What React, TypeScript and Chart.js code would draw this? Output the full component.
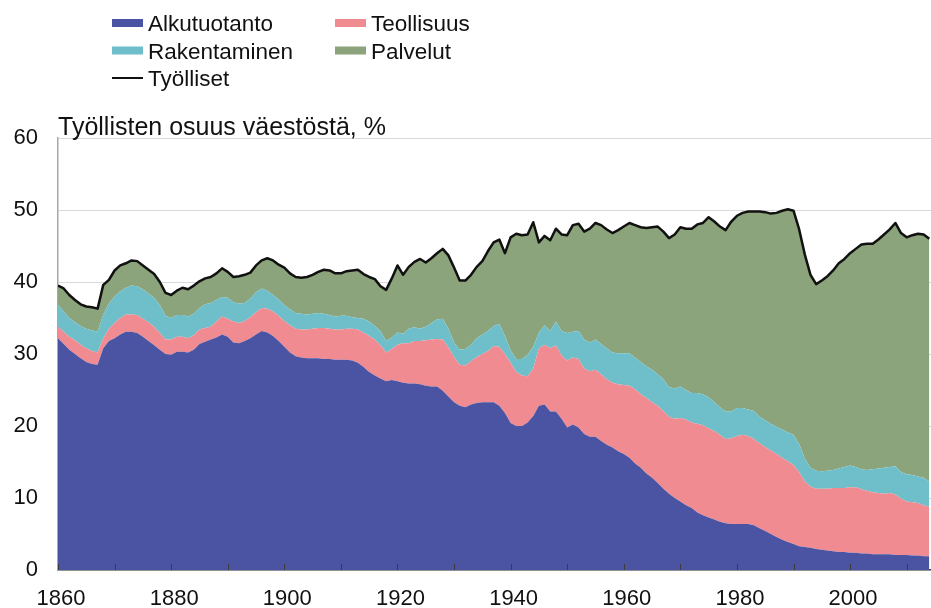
import React, { useEffect, useRef } from "react";
import { Chart, registerables } from "chart.js";

Chart.register(...registerables);

const FIRST_YEAR = 1860;
const LAST_YEAR = 2014;
const years: number[] = [];
for (let y = FIRST_YEAR; y <= LAST_YEAR; y++) years.push(y);

const alkutuotanto = [
  32.2, 31.4, 30.6, 30.0, 29.4, 28.9, 28.6, 28.5, 30.8, 31.8,
  32.2, 32.7, 33.1, 33.1, 32.9, 32.4, 31.8, 31.2, 30.6, 30.0,
  29.9, 30.3, 30.3, 30.2, 30.6, 31.4, 31.7, 32.0, 32.3, 32.7,
  32.4, 31.6, 31.5, 31.8, 32.2, 32.7, 33.2, 33.0, 32.5, 31.8,
  31.0, 30.2, 29.7, 29.5, 29.4, 29.4, 29.4, 29.3, 29.3, 29.2,
  29.2, 29.2, 29.1, 28.8, 28.2, 27.5, 27.0, 26.6, 26.2, 26.4,
  26.2, 26.0, 25.9, 25.9, 25.8, 25.6, 25.5, 25.5, 24.9, 24.1,
  23.3, 22.8, 22.6, 23.0, 23.2, 23.3, 23.3, 23.3, 22.8, 21.8,
  20.4, 20.0, 20.0, 20.5, 21.4, 22.8, 23.0, 22.0, 22.0, 21.0,
  19.8, 20.2, 19.8, 18.9, 18.5, 18.5, 17.9, 17.4, 17.0, 16.5,
  16.1, 15.6, 14.8, 14.2, 13.4, 12.8, 12.1, 11.3, 10.6, 10.0,
  9.5, 9.0, 8.6, 8.0, 7.6, 7.3, 7.0, 6.7, 6.5, 6.4,
  6.4, 6.4, 6.4, 6.2, 5.8, 5.4, 5.0, 4.6, 4.2, 3.9,
  3.6, 3.3, 3.2, 3.1, 2.9, 2.8, 2.7, 2.6, 2.5, 2.5,
  2.4, 2.4, 2.3, 2.3, 2.2, 2.2, 2.2, 2.2, 2.1, 2.1,
  2.1, 2.0, 2.0, 1.9, 1.9,
];

const teollisuus = [
  1.6, 1.7, 1.8, 1.9, 1.9, 1.9, 1.8, 1.7, 1.4, 1.7,
  2.1, 2.3, 2.4, 2.4, 2.5, 2.5, 2.6, 2.6, 2.3, 2.0,
  2.1, 2.1, 2.1, 2.0, 2.0, 2.0, 1.9, 1.8, 2.2, 2.5,
  2.5, 2.9, 2.8, 2.8, 2.9, 3.1, 3.2, 3.3, 3.4, 3.5,
  3.6, 3.8, 3.8, 3.9, 4.0, 4.1, 4.2, 4.3, 4.2, 4.2,
  4.2, 4.3, 4.4, 4.6, 4.8, 5.0, 5.0, 4.6, 4.0, 4.3,
  5.1, 5.5, 5.6, 5.9, 6.0, 6.3, 6.5, 6.6, 7.1, 6.8,
  6.3, 5.7, 5.8, 6.0, 6.4, 6.7, 7.1, 7.8, 8.2, 8.2,
  8.4, 7.5, 7.0, 6.4, 6.6, 8.0, 8.3, 8.8, 9.2, 8.8,
  9.3, 9.3, 9.5, 9.1, 9.1, 9.3, 9.3, 9.1, 9.0, 9.3,
  9.6, 10.0, 10.3, 10.2, 10.5, 10.5, 10.7, 10.8, 10.7, 11.0,
  11.6, 11.9, 11.9, 12.3, 12.5, 12.4, 12.3, 12.1, 11.7, 11.9,
  12.2, 12.4, 12.2, 12.0, 11.8, 11.7, 11.6, 11.5, 11.4, 11.2,
  11.0, 10.3, 9.1, 8.5, 8.4, 8.5, 8.6, 8.8, 8.9, 8.9,
  9.1, 9.1, 8.9, 8.7, 8.6, 8.5, 8.4, 8.5, 8.4, 7.8,
  7.4, 7.4, 7.3, 7.1, 6.9,
];

const rakentaminen = [
  3.0, 2.8, 2.6, 2.5, 2.6, 2.7, 2.9, 2.9, 3.3, 3.5,
  3.7, 3.7, 3.7, 4.0, 4.0, 4.1, 4.0, 4.0, 3.9, 3.3,
  3.0, 3.0, 3.0, 3.0, 3.0, 3.0, 3.3, 3.3, 3.0, 2.7,
  2.9, 2.7, 2.7, 2.5, 2.6, 2.8, 2.7, 2.5, 2.3, 2.3,
  2.2, 2.2, 2.2, 2.2, 2.1, 2.1, 2.1, 2.0, 1.9, 1.8,
  1.9, 1.8, 1.6, 1.6, 1.9, 2.0, 1.9, 2.0, 1.6, 1.6,
  1.7, 1.3, 2.0, 1.9, 1.7, 1.9, 2.3, 2.7, 2.9, 2.6,
  2.0, 2.1, 2.3, 2.3, 2.6, 2.7, 2.8, 2.8, 3.2, 2.5,
  1.7, 1.8, 2.3, 3.0, 3.0, 2.2, 2.7, 2.4, 3.3, 3.4,
  3.8, 3.6, 3.9, 4.0, 4.0, 4.2, 4.2, 4.3, 4.2, 4.3,
  4.4, 4.5, 4.4, 4.5, 4.4, 4.5, 4.4, 4.4, 4.1, 4.2,
  4.4, 4.1, 4.1, 4.3, 4.3, 4.3, 4.0, 3.8, 3.8, 3.7,
  3.9, 3.7, 3.7, 3.9, 3.7, 3.7, 3.7, 3.8, 3.9, 4.0,
  4.2, 3.9, 3.2, 2.6, 2.5, 2.4, 2.5, 2.5, 2.7, 2.9,
  3.0, 2.8, 2.8, 2.9, 3.2, 3.4, 3.6, 3.6, 3.9, 3.7,
  3.8, 3.8, 3.7, 3.8, 3.5,
];

const palvelut = [
  2.7, 3.2, 3.2, 3.1, 3.0, 3.1, 3.2, 3.2, 4.1, 3.3,
  3.6, 3.6, 3.4, 3.5, 3.5, 3.3, 3.3, 3.3, 3.2, 3.2,
  3.2, 3.4, 3.8, 3.8, 3.9, 3.7, 3.6, 3.6, 3.7, 4.0,
  3.6, 3.5, 3.8, 3.9, 3.6, 3.7, 3.9, 4.5, 4.8, 4.8,
  5.2, 5.0, 5.0, 5.0, 5.2, 5.4, 5.7, 6.1, 6.2, 6.0,
  5.9, 6.2, 6.5, 6.7, 6.2, 6.2, 6.5, 6.2, 7.1, 8.2,
  9.3, 8.2, 8.6, 9.1, 9.7, 8.9, 9.0, 9.2, 9.7, 10.2,
  10.4, 9.6, 9.5, 9.7, 9.9, 10.2, 11.1, 11.6, 11.7, 11.5,
  15.7, 17.4, 17.2, 16.7, 17.3, 12.5, 12.4, 12.6, 12.9, 13.4,
  13.6, 14.8, 14.9, 15.0, 15.8, 16.2, 16.5, 16.5, 16.6, 17.1,
  17.6, 18.1, 18.4, 18.7, 19.2, 19.8, 20.5, 20.5, 20.7, 21.4,
  22.1, 22.4, 22.8, 23.4, 23.8, 25.0, 25.1, 25.1, 25.2, 26.4,
  26.7, 27.1, 27.5, 27.7, 28.5, 28.9, 29.2, 29.7, 30.4, 31.0,
  31.1, 29.8, 28.3, 26.8, 25.9, 26.5, 27.0, 27.7, 28.5, 28.9,
  29.5, 30.3, 31.2, 31.4, 31.3, 31.8, 32.4, 33.0, 33.8, 33.2,
  32.9, 33.3, 33.7, 33.9, 33.7,
];

const tyolliset = [
  39.5, 39.1, 38.2, 37.5, 36.9, 36.6, 36.5, 36.3, 39.6, 40.3,
  41.6, 42.3, 42.6, 43.0, 42.9, 42.3, 41.7, 41.1, 40.0, 38.5,
  38.2, 38.8, 39.2, 39.0, 39.5, 40.1, 40.5, 40.7, 41.2, 41.9,
  41.4, 40.7, 40.8, 41.0, 41.3, 42.3, 43.0, 43.3, 43.0, 42.4,
  42.0, 41.2, 40.7, 40.6, 40.7, 41.0, 41.4, 41.7, 41.6, 41.2,
  41.2, 41.5, 41.6, 41.7, 41.1, 40.7, 40.4, 39.4, 38.9, 40.5,
  42.3, 41.0, 42.1, 42.8, 43.2, 42.7, 43.3, 44.0, 44.6, 43.7,
  42.0, 40.2, 40.2, 41.0, 42.1, 42.9, 44.3, 45.5, 45.9, 44.0,
  46.2, 46.7, 46.5, 46.6, 48.3, 45.5, 46.4, 45.8, 47.4, 46.6,
  46.5, 47.9, 48.1, 47.0, 47.4, 48.2, 47.9, 47.3, 46.8, 47.2,
  47.7, 48.2, 47.9, 47.6, 47.5, 47.6, 47.7, 47.0, 46.1, 46.6,
  47.6, 47.4, 47.4, 48.0, 48.2, 49.0, 48.4, 47.7, 47.2, 48.4,
  49.2, 49.6, 49.8, 49.8, 49.8, 49.7, 49.5, 49.6, 49.9, 50.1,
  49.9, 47.3, 43.8, 41.0, 39.7, 40.2, 40.8, 41.6, 42.6, 43.2,
  44.0, 44.6, 45.2, 45.3, 45.3, 45.9, 46.6, 47.3, 48.2, 46.8,
  46.2, 46.5, 46.7, 46.6, 46.0,
];

const yTicks = [0, 10, 20, 30, 40, 50, 60];
const xLabelYears = [1860, 1880, 1900, 1920, 1940, 1960, 1980, 2000];
const axisTitle = "Työllisten osuus väestöstä, %";

const seriesNames = ["Alkutuotanto", "Teollisuus", "Rakentaminen", "Palvelut", "Työlliset"];
const COLORS = {
  alku: "#4a54a3",
  teol: "#f08b92",
  rak: "#6fbfcb",
  palv: "#8ba47b",
  line: "#111111",
};

const FONT = "'Liberation Sans', Arial, Helvetica, sans-serif";

const toPoints = (arr: number[]) => years.map((yr, i) => ({ x: yr, y: arr[i] }));

const decorPlugin = {
  id: "decor",
  afterDatasetsDraw(chart: any) {
    const { ctx, chartArea, scales } = chart;
    const xs = scales.x;
    ctx.save();
    ctx.strokeStyle = "#3a3a3a";
    ctx.lineWidth = 1;
    xs.ticks.forEach((t: any) => {
      const px = Math.round(xs.getPixelForValue(t.value)) + 0.5;
      ctx.beginPath();
      ctx.moveTo(px, chartArea.bottom);
      ctx.lineTo(px, chartArea.bottom - 6);
      ctx.stroke();
    });
    ctx.restore();
  },
  afterDraw(chart: any) {
    const { ctx, chartArea } = chart;
    ctx.save();
    ctx.fillStyle = "#111";
    ctx.font = `25px ${FONT}`;
    ctx.textAlign = "left";
    ctx.textBaseline = "alphabetic";
    ctx.fillText(axisTitle, chartArea.left, chartArea.top - 3);

    const items = [
      { label: seriesNames[0], color: COLORS.alku, col: 0, row: 0, line: false },
      { label: seriesNames[1], color: COLORS.teol, col: 1, row: 0, line: false },
      { label: seriesNames[2], color: COLORS.rak, col: 0, row: 1, line: false },
      { label: seriesNames[3], color: COLORS.palv, col: 1, row: 1, line: false },
      { label: seriesNames[4], color: COLORS.line, col: 0, row: 2, line: true },
    ];
    const colX = [112, 335];
    const rowBase = [31, 58.5, 86];
    ctx.font = `22.5px ${FONT}`;
    items.forEach((it) => {
      const x = colX[it.col];
      const base = rowBase[it.row];
      const cy = base - 8;
      ctx.fillStyle = it.color;
      if (it.line) {
        ctx.fillRect(x, cy - 1, 31, 2);
      } else {
        ctx.fillRect(x, cy - 4, 31, 8);
      }
      ctx.fillStyle = "#111";
      ctx.fillText(it.label, x + 36, base);
    });
    ctx.restore();
  },
};

export default function App() {
  const canvasRef = useRef<HTMLCanvasElement | null>(null);

  useEffect(() => {
    const canvas = canvasRef.current;
    if (!canvas) return;
    const area = (label: string, data: number[], color: string, fill: any) => ({
      label,
      data: toPoints(data),
      backgroundColor: color,
      borderColor: color,
      borderWidth: 0,
      pointRadius: 0,
      pointHoverRadius: 0,
      fill,
      tension: 0,
      stack: "sectors",
      order: 1,
    });
    const chart = new Chart(canvas, {
      type: "line",
      data: {
        datasets: [
          area(seriesNames[0], alkutuotanto, COLORS.alku, "origin"),
          area(seriesNames[1], teollisuus, COLORS.teol, "-1"),
          area(seriesNames[2], rakentaminen, COLORS.rak, "-1"),
          area(seriesNames[3], palvelut, COLORS.palv, "-1"),
          {
            label: seriesNames[4],
            data: toPoints(tyolliset),
            borderColor: COLORS.line,
            backgroundColor: COLORS.line,
            borderWidth: 2.5,
            borderJoinStyle: "round",
            pointRadius: 0,
            pointHoverRadius: 0,
            fill: false,
            tension: 0,
            stack: "total",
            order: 0,
          } as any,
        ],
      },
      options: {
        responsive: false,
        animation: false,
        devicePixelRatio: 1,
        layout: { padding: { top: 138, left: 0, right: 0, bottom: 0 } },
        plugins: {
          legend: { display: false },
          tooltip: { enabled: false },
          title: { display: false },
        },
        scales: {
          x: {
            type: "linear",
            min: FIRST_YEAR,
            max: 2014.3,
            grid: { display: false, drawTicks: false },
            border: { display: true, color: "#4a4a4a", width: 1.5 },
            ticks: {
              stepSize: 10,
              includeBounds: false,
              autoSkip: false,
              maxRotation: 0,
              padding: 16,
              labelOffset: 3,
              color: "#111",
              font: { family: FONT, size: 22 },
              callback: (v: any) => (xLabelYears.includes(Number(v)) ? String(v) : ""),
            },
            afterFit: (s: any) => {
              s.height = 38;
            },
          },
          y: {
            stacked: true,
            min: yTicks[0],
            max: yTicks[yTicks.length - 1],
            grid: { color: "#d9d9d9", lineWidth: 1, drawTicks: false },
            border: { display: true, color: "#a8a8a8", width: 1.5 },
            ticks: {
              stepSize: 10,
              padding: 20,
              color: "#111",
              font: { family: FONT, size: 22 },
            },
            afterFit: (s: any) => {
              s.width = 58;
            },
          },
        },
      },
      plugins: [decorPlugin],
    } as any);
    return () => chart.destroy();
  }, []);

  return (
    <div style={{ position: "absolute", left: 0, top: 0, width: 931, height: 608, background: "#fff", overflow: "hidden" }}>
      <canvas ref={canvasRef} width={931} height={608} style={{ display: "block" }} />
    </div>
  );
}
